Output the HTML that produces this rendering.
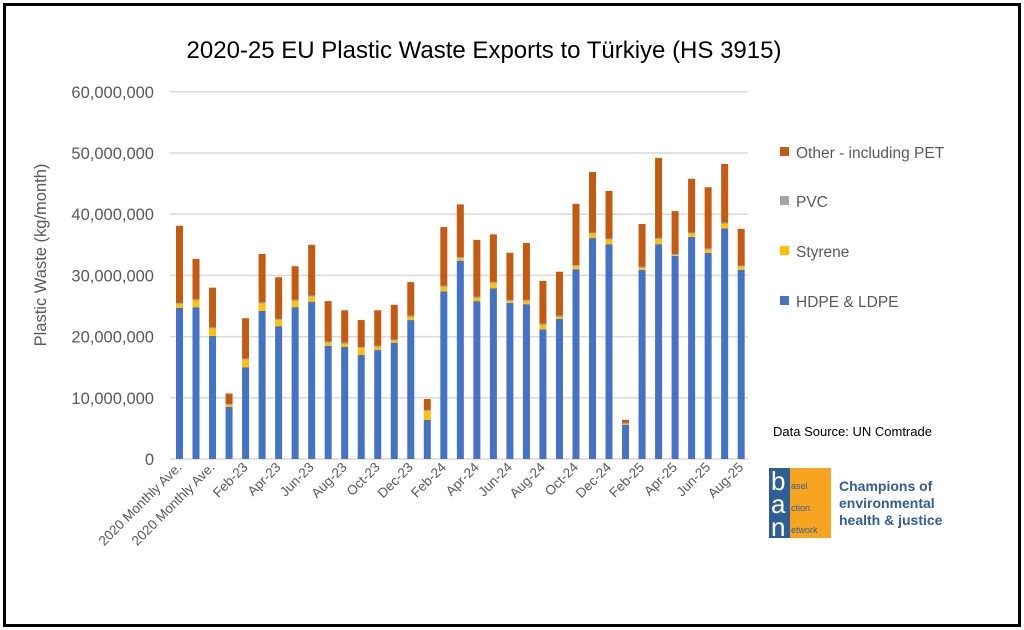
<!DOCTYPE html>
<html><head><meta charset="utf-8"><style>
body{margin:0;background:#fff;}
#f{position:absolute;left:3px;top:3px;width:1012px;height:618px;border:3px solid #000;}
</style></head><body>
<div id="f"></div>
<svg width="1024" height="630" style="position:absolute;left:0;top:0" font-family="Liberation Sans, sans-serif">
<text x="484" y="58" text-anchor="middle" font-size="24" fill="#000">2020-25 EU Plastic Waste Exports to Türkiye (HS 3915)</text>
<g id="grid" stroke="#d9d9d9" stroke-width="1.5"></g>
<g id="yl" font-size="16.5" fill="#595959" text-anchor="end"></g>
<text transform="translate(46,255) rotate(-90)" text-anchor="middle" font-size="16.5" fill="#595959">Plastic Waste (kg/month)</text>
<g id="bars"></g>
<g id="xl" font-size="13.5" fill="#595959" text-anchor="end"></g>
<g font-size="15.5" fill="#595959">
<rect x="780" y="147" width="9" height="9" fill="#c55a11"/><text x="796" y="158">Other - including PET</text>
<rect x="780" y="196" width="9" height="9" fill="#a5a5a5"/><text x="796" y="207">PVC</text>
<rect x="780" y="246" width="9" height="9" fill="#ffc000"/><text x="796" y="257">Styrene</text>
<rect x="780" y="296" width="9" height="9" fill="#4472c4"/><text x="796" y="307">HDPE &amp; LDPE</text>
</g>
<text x="773" y="436" font-size="13" fill="#000">Data Source: UN Comtrade</text>
<rect x="769" y="468" width="62" height="70" fill="#f7a521"/>
<rect x="769" y="468" width="21" height="70" fill="#2f5e97"/>
<g fill="#fff" font-size="26"><text x="771" y="490">b</text><text x="771" y="513">a</text><text x="771" y="536">n</text></g>
<g fill="#2f5e97" font-size="9"><text x="791" y="489">asel</text><text x="791" y="511">ction</text><text x="791" y="533">etwork</text></g>
<g fill="#2f5e97" font-size="14" font-weight="bold"><text x="839" y="491">Champions of</text><text x="839" y="508">environmental</text><text x="839" y="525">health &amp; justice</text></g>
</svg>
<script>
const d=[[38.1,24.7,25.3],[32.7,24.8,25.9],[28,20.1,21.3],[10.7,8.5,8.8],[23,15,16.2],[33.5,24.2,25.4],[29.7,21.7,22.7],[31.5,24.8,25.8],[35,25.7,26.5],[25.8,18.5,19],[24.3,18.3,18.8],[22.7,17,18.1],[24.3,17.8,18.3],[25.2,19,19.3],[28.9,22.7,23.2],[9.8,6.4,7.8],[37.9,27.4,28.1],[41.6,32.4,32.8],[35.8,25.8,26.3],[36.7,27.9,28.7],[33.7,25.5,25.8],[35.3,25.3,25.8],[29.1,21.2,21.9],[30.6,22.9,23.2],[41.7,31,31.5],[46.9,36.1,36.8],[43.8,35.1,35.8],[6.4,5.6,5.7],[38.4,30.9,31.2],[49.2,35.1,35.9],[40.5,33.2,33.3],[45.8,36.3,36.8],[44.4,33.7,34.2],[48.2,37.7,38.4],[37.6,30.9,31.4]];
const ns="http://www.w3.org/2000/svg";
function el(p,t,a,tx){const e=document.createElementNS(ns,t);for(const k in a)e.setAttribute(k,a[k]);if(tx)e.textContent=tx;document.getElementById(p).appendChild(e);}
const Y=v=>459-v*6.12;
for(let i=0;i<=6;i++){el('grid','line',{x1:170,x2:748,y1:Y(i*10),y2:Y(i*10)});el('yl','text',{x:154,y:Y(i*10)+6},i==0?'0':(i*10)+',000,000');}
const lab=['2020 Monthly Ave.','2020 Monthly Ave.','Feb-23','Apr-23','Jun-23','Aug-23','Oct-23','Dec-23','Feb-24','Apr-24','Jun-24','Aug-24','Oct-24','Dec-24','Feb-25','Apr-25','Jun-25','Aug-25'];
d.forEach((b,i)=>{const c=179.5+i*16.52,x=c-3.5,w=7;
const pv=Math.min(b[2]+0.2,b[0]);
el('bars','rect',{x,width:w,y:Y(b[1]),height:b[1]*6.12,fill:'#4472c4'});
el('bars','rect',{x,width:w,y:Y(b[2]),height:(b[2]-b[1])*6.12,fill:'#ffc000'});
el('bars','rect',{x,width:w,y:Y(pv),height:(pv-b[2])*6.12,fill:'#a5a5a5'});
el('bars','rect',{x,width:w,y:Y(b[0]),height:(b[0]-pv)*6.12,fill:'#c55a11'});
if(i%2==0)el('xl','text',{transform:`translate(${c+3},${468}) rotate(-45)`},lab[i/2]);});
</script>
</body></html>
